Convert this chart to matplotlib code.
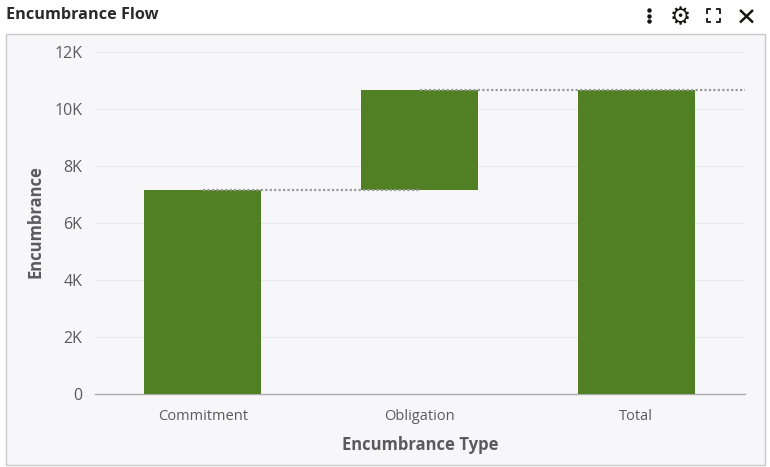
import matplotlib

matplotlib.use("Agg")
import matplotlib.pyplot as plt
from matplotlib.lines import Line2D
from matplotlib.patches import Rectangle

categories = ["Commitment", "Obligation", "Total"]
bar_bottoms = [0, 7170, 0]
bar_tops = [7170, 10670, 10670]
y_ticks = [0, 2000, 4000, 6000, 8000, 10000, 12000]
y_tick_labels = ["0", "2K", "4K", "6K", "8K", "10K", "12K"]

W, H = 770, 467
green = "#508023"
panel_bg = "#f7f7fa"
text_grey = "#5b5b5b"

plt.rcParams["font.family"] = ["Open Sans", "DejaVu Sans"]

fig = plt.figure(figsize=(W / 100, H / 100), dpi=100, facecolor="white")

# panel border behind the chart
fig.add_artist(
    Rectangle(
        (6.5 / W, 1 - 464.5 / H),
        758 / W,
        431 / H,
        transform=fig.transFigure,
        facecolor=panel_bg,
        edgecolor="#c9c9c9",
        linewidth=1,
        zorder=-1,
    )
)

ax = fig.add_axes([94.6 / W, 1 - 394 / H, 650 / W, 342 / H])
ax.patch.set_alpha(0)

heights = [t - b for t, b in zip(bar_tops, bar_bottoms)]
x = list(range(len(categories)))
ax.bar(x, heights, bottom=bar_bottoms, width=0.54, color=green, zorder=3)

# dotted connectors between the steps
ax.plot([0, 1], [bar_tops[0], bar_tops[0]], ls=(0, (1, 1)), lw=1.6, color="#9a9a9a", zorder=4)
ax.plot([1, 2.5], [bar_tops[1], bar_tops[1]], ls=(0, (1, 1)), lw=1.6, color="#9a9a9a", zorder=4)

ax.set_xlim(-0.5, 2.5)
ax.set_ylim(0, 12000)
ax.set_yticks(y_ticks)
ax.set_yticklabels(y_tick_labels)
ax.set_xticks(x)
ax.set_xticklabels(categories)
ax.grid(axis="y", color="#e6e8ef", lw=0.8, zorder=0)
ax.set_axisbelow(True)
ax.tick_params(axis="y", length=0, pad=9, labelsize=11.5, labelcolor=text_grey)
ax.tick_params(axis="x", length=0, pad=11, labelsize=10.5, labelcolor=text_grey)
for s in ["top", "right", "left"]:
    ax.spines[s].set_visible(False)
ax.spines["bottom"].set_color("#ababab")
ax.spines["bottom"].set_linewidth(1)

fig.text(36 / W, 1 - 222 / H, "Encumbrance", rotation=90, ha="center", va="center",
         fontsize=12, fontweight="bold", color=text_grey)
fig.text(420 / W, 1 - 445 / H, "Encumbrance Type", ha="center", va="center",
         fontsize=12, fontweight="bold", color=text_grey)
fig.text(6 / W, 1 - 15 / H, "Encumbrance Flow", ha="left", va="center",
         fontsize=11.7, fontweight="bold", color="#2b2b2b")


# toolbar icons, given in pixel positions from the top left
def px_line(xs, ys, lw=1.6):
    fig.add_artist(
        Line2D([v / W for v in xs], [1 - v / H for v in ys], color="#161513", lw=lw,
               solid_capstyle="butt", transform=fig.transFigure)
    )


for cy in (9.5, 15.5, 21):
    fig.add_artist(Line2D([649 / W], [1 - cy / H], marker="o", ms=2.2, color="#161513",
                          transform=fig.transFigure))

fig.text(680.5 / W, 1 - 17.5 / H, "\u2699", family="DejaVu Sans", ha="center", va="center",
         fontsize=17, fontweight="bold", color="#161513")

px_line([707, 707, 711], [14, 9, 9], lw=1.3)
px_line([716, 720, 720], [9, 9, 14], lw=1.3)
px_line([707, 707, 711], [18, 22, 22], lw=1.3)
px_line([716, 720, 720], [22, 22, 18], lw=1.3)

px_line([740, 753], [10, 22.5], lw=1.8)
px_line([740, 753], [22.5, 10], lw=1.8)

fig.savefig("out.png", dpi=100)
plt.close(fig)
